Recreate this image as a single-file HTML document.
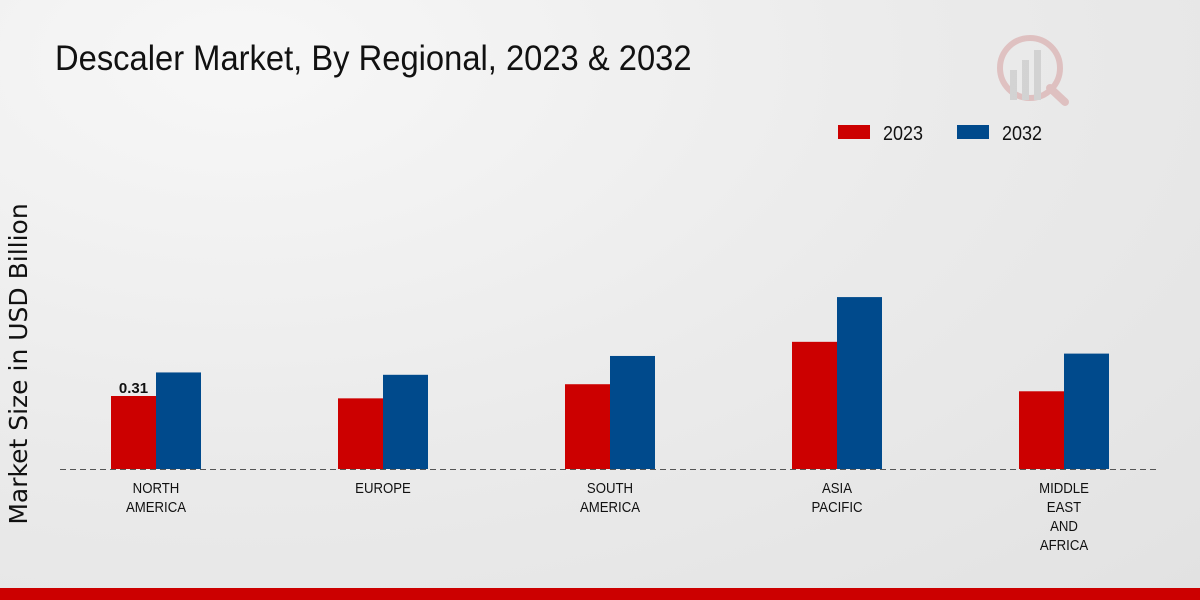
<!DOCTYPE html>
<html><head><meta charset="utf-8">
<style>
html,body{margin:0;padding:0;}
body{width:1200px;height:600px;overflow:hidden;background:radial-gradient(ellipse at 20% 10%,#f7f7f7 0%,#ebebeb 50%,#e2e2e2 100%);font-family:"Liberation Sans",sans-serif;position:relative;}
svg{position:absolute;left:0;top:0;}
</style></head>
<body>
<svg width="1200" height="600">
<text x="55" y="70" font-size="35" fill="#111" transform="scale(0.935,1)" transform-origin="55 70">Descaler Market, By Regional, 2023 &amp; 2032</text>
<g opacity="0.35">
<circle cx="1030" cy="68" r="30" fill="none" stroke="#c77" stroke-width="6"/>
<line x1="1050" y1="88" x2="1065" y2="102" stroke="#c77" stroke-width="8" stroke-linecap="round"/>
<rect x="1010" y="70" width="7" height="30" fill="#aaa"/><rect x="1022" y="60" width="7" height="40" fill="#aaa"/><rect x="1034" y="50" width="7" height="50" fill="#aaa"/>
</g>
<g>
<rect x="838" y="125" width="32" height="14" fill="#cc0000"/>
<text x="883" y="140" font-size="20" fill="#111" transform="scale(0.9,1)" transform-origin="883 140">2023</text>
<rect x="957" y="125" width="32" height="14" fill="#004a8c"/>
<text x="1002" y="140" font-size="20" fill="#111" transform="scale(0.9,1)" transform-origin="1002 140">2032</text>
</g>
<text transform="translate(27,364) rotate(-90)" text-anchor="middle" font-size="25" fill="#111" font-family="DejaVu Sans, sans-serif">Market Size in USD Billion</text>
<g id="bars"></g>
<line x1="60" y1="469.5" x2="1160" y2="469.5" stroke="#555" stroke-dasharray="6,4"/>
<g id="labels"></g>
<rect x="0" y="588" width="1200" height="12" fill="#cc0000"/>
</svg>
<script>
const categories=[["NORTH","AMERICA"],["EUROPE"],["SOUTH","AMERICA"],["ASIA","PACIFIC"],["MIDDLE","EAST","AND","AFRICA"]];
const values2023=[0.31,0.30,0.36,0.54,0.33];
const values2032=[0.41,0.40,0.48,0.73,0.49];
const NS="http://www.w3.org/2000/svg";
const base=469, scale=235.5, x0=156, step=227, bw=45;
const y=v=>base-v*scale;
const bars=document.getElementById('bars'), labels=document.getElementById('labels');
categories.forEach((c,i)=>{
  const cx=x0+i*step;
  [[values2023,'#cc0000',cx-bw,'2023'],[values2032,'#004a8c',cx,'2032']].forEach(([arr,col,x,s])=>{
    const r=document.createElementNS(NS,'rect');
    r.setAttribute('x',x);r.setAttribute('y',y(arr[i]));r.setAttribute('width',bw);r.setAttribute('height',arr[i]*scale);r.setAttribute('fill',col);
    
    
    bars.appendChild(r);
  });
  c.forEach((ln,j)=>{
    const t=document.createElementNS(NS,'text');
    t.setAttribute('x',cx);t.setAttribute('y',493+j*19);t.setAttribute('text-anchor','middle');t.setAttribute('font-size','15');t.setAttribute('fill','#111');
    t.setAttribute('transform','scale(0.88,1)');t.setAttribute('transform-origin',cx+' 0');
    t.textContent=ln;
    
    
    labels.appendChild(t);
  });
});
const v=document.createElementNS(NS,'text');
v.setAttribute('x',x0-bw/2);v.setAttribute('y',y(values2023[0])-3);v.setAttribute('text-anchor','middle');v.setAttribute('font-size','15');v.setAttribute('font-weight','bold');v.setAttribute('fill','#111');
v.textContent=values2023[0].toFixed(2);


labels.appendChild(v);
</script>
</body></html>
